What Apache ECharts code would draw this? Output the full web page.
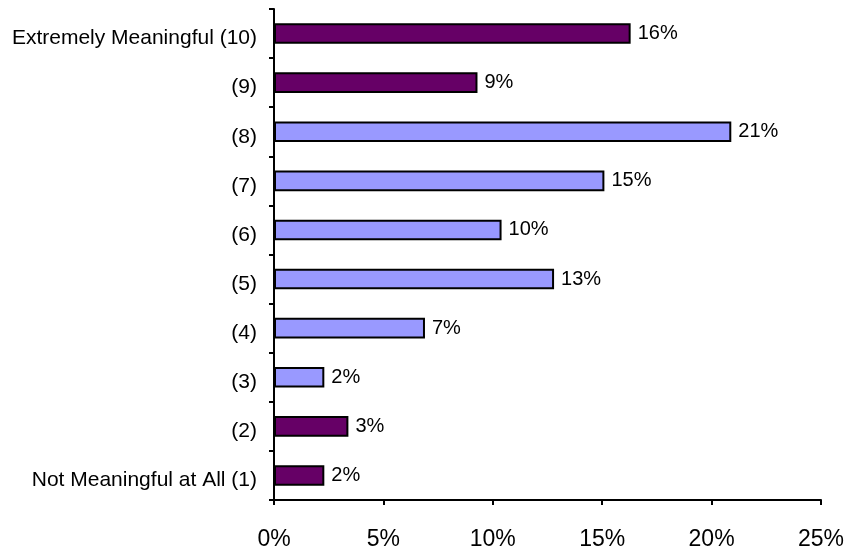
<!DOCTYPE html>
<html>
<head>
<meta charset="utf-8">
<script src="https://cdn.jsdelivr.net/npm/echarts@6/dist/echarts.min.js"></script>
<style>html,body{margin:0;padding:0;background:#fff;}#c{width:849px;height:552px;}</style>
</head>
<body>
<div id="c"></div>
<script>
// Categories listed bottom to top
const categories = ['Not Meaningful at All (1)', '(2)', '(3)', '(4)', '(5)', '(6)', '(7)', '(8)', '(9)', 'Extremely Meaningful (10)'];
// Percent values
const values = [2.3, 3.4, 2.3, 6.9, 12.8, 10.4, 15.1, 20.9, 9.3, 16.3];
// Category groups: 'end' = dark purple, 'mid' = light blue
const groups = ['end', 'end', 'mid', 'mid', 'mid', 'mid', 'mid', 'mid', 'end', 'end'];
const xTicks = [0, 5, 10, 15, 20, 25];

const groupColor = { end: '#660066', mid: '#9999FF' };
const font = 'Liberation Sans, Arial, sans-serif';

const chart = echarts.init(document.getElementById('c'), null, { renderer: 'canvas' });
chart.setOption({
  animation: false,
  backgroundColor: '#ffffff',
  grid: { left: 274, right: 28, top: 9, bottom: 52, containLabel: false },
  xAxis: {
    type: 'value',
    min: xTicks[0],
    max: xTicks[xTicks.length - 1],
    interval: xTicks[1] - xTicks[0],
    axisLine: { show: true, lineStyle: { color: '#000', width: 2 } },
    axisTick: { show: true, length: 5, lineStyle: { color: '#000', width: 2 } },
    splitLine: { show: false },
    axisLabel: { formatter: v => v + '%', color: '#000', fontFamily: font, fontSize: 23, margin: 28 }
  },
  yAxis: {
    type: 'category',
    data: categories,
    axisLine: { show: true, lineStyle: { color: '#000', width: 2 } },
    axisTick: { show: true, length: 5, lineStyle: { color: '#000', width: 2 } },
    splitLine: { show: false },
    axisLabel: {
      color: '#000', fontFamily: font, fontSize: 21, margin: 17,
      formatter: v => '{a|' + v + '}',
      rich: { a: { color: '#000', fontFamily: font, fontSize: 21, padding: [10, 0, 0, 0] } }
    }
  },
  series: [{
    type: 'bar',
    data: values,
    barWidth: '42%',
    itemStyle: {
      color: p => groupColor[groups[p.dataIndex]],
      borderColor: '#000',
      borderWidth: 2
    },
    label: {
      show: true,
      position: 'right',
      distance: 7,
      color: '#000',
      fontFamily: font,
      fontSize: 20,
      formatter: p => Math.round(p.value) + '%'
    }
  }]
});
</script>
</body>
</html>
